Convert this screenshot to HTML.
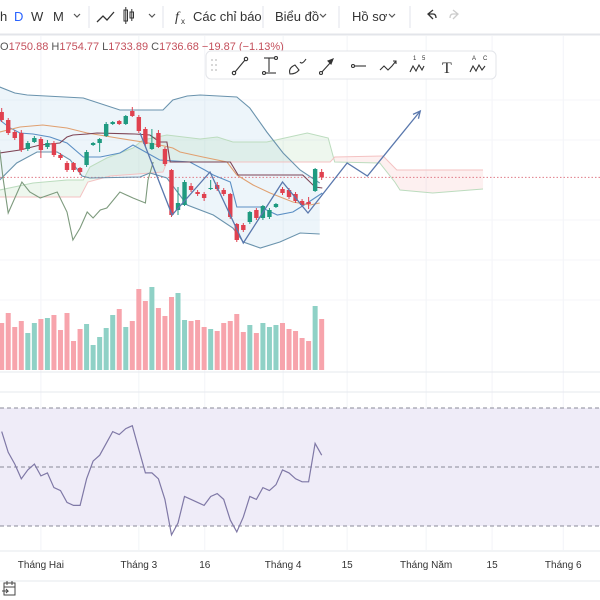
<!DOCTYPE html>
<html><head><meta charset="utf-8"><style>
html,body{margin:0;padding:0;background:#fff;width:600px;height:600px;overflow:hidden}
svg{display:block;font-family:"Liberation Sans","Noto Sans CJK SC",sans-serif}
</style></head><body>
<svg id="chart" width="600" height="600" viewBox="0 0 600 600" xmlns="http://www.w3.org/2000/svg">
<rect width="600" height="600" fill="#fff"/>
<g id="grid"></g>
<g id="bbfill"></g>
<g id="cloud"></g>
<g id="lines"></g>
<g id="candles"></g>
<g id="vol"></g>
<g id="rsi"></g>
<g id="xaxis"></g>
<g id="draw"></g>

<g>
<rect x="0" y="0" width="600" height="34" fill="#fff"/>
<line x1="0" y1="34.5" x2="600" y2="34.5" stroke="#e3e5ea" stroke-width="2"/>
<text x="0" y="21" font-size="13" fill="#333">h</text>
<text x="14" y="21" font-size="13" fill="#2962ff">D</text>
<text x="31" y="21" font-size="13" fill="#333">W</text>
<text x="53" y="21" font-size="13" fill="#333">M</text>
<path d="M74 14 l3 3 l3 -3" fill="none" stroke="#555" stroke-width="1.2"/>
<line x1="89" y1="6" x2="89" y2="28" stroke="#e0e3eb"/>
<path d="M97 22 l6 -6 l4 4 l7 -8" fill="none" stroke="#333" stroke-width="1.3"/>
<g stroke="#333" stroke-width="1" fill="none"><rect x="124" y="10" width="3.5" height="11"/><line x1="125.8" y1="7" x2="125.8" y2="24"/><rect x="130" y="12" width="3.5" height="6"/><line x1="131.8" y1="9" x2="131.8" y2="21"/></g>
<path d="M149 14 l3 3 l3 -3" fill="none" stroke="#555" stroke-width="1.2"/>
<line x1="163" y1="6" x2="163" y2="28" stroke="#e0e3eb"/>
<g><text x="175" y="21" font-size="14" font-style="italic" font-family="Liberation Serif,serif" fill="#333">f</text><text x="181" y="24" font-size="8" fill="#333">x</text><text x="193" y="21" font-size="13" fill="#333">Các chỉ báo</text></g>
<line x1="263" y1="6" x2="263" y2="28" stroke="#e0e3eb"/>
<g><text x="275" y="21" font-size="13" fill="#333">Biểu đồ</text><path d="M320 14 l3 3 l3 -3" fill="none" stroke="#555" stroke-width="1.2"/></g>
<line x1="339" y1="6" x2="339" y2="28" stroke="#e0e3eb"/>
<g><text x="352" y="21" font-size="13" fill="#333">Hồ sơ</text><path d="M389 14 l3 3 l3 -3" fill="none" stroke="#555" stroke-width="1.2"/></g>
<line x1="410" y1="6" x2="410" y2="28" stroke="#e0e3eb"/>
<path d="M433 19 l-5 -5 l5 -4 M428 14 h5 q3 0 3 4" fill="none" stroke="#333" stroke-width="1.3"/>
<path d="M453 19 l5 -5 l-5 -4 M458 14 h-5 q-3 0 -3 4" fill="none" stroke="#ccc" stroke-width="1.3"/>
</g>

<text x="0" y="50" font-size="11"><tspan fill="#555">O</tspan><tspan fill="#c4505c">1750.88 </tspan><tspan fill="#555">H</tspan><tspan fill="#c4505c">1754.77 </tspan><tspan fill="#555">L</tspan><tspan fill="#c4505c">1733.89 </tspan><tspan fill="#555">C</tspan><tspan fill="#c4505c">1736.68 −19.87 (−1.13%)</tspan></text>

<g>
<rect x="206" y="51" width="290" height="28" rx="5" fill="#fff" stroke="#e3e5ea"/>
<g fill="#ccc"><circle cx="212" cy="60" r="1"/><circle cx="216" cy="60" r="1"/><circle cx="212" cy="65" r="1"/><circle cx="216" cy="65" r="1"/><circle cx="212" cy="70" r="1"/><circle cx="216" cy="70" r="1"/></g>
<g fill="none" stroke="#333" stroke-width="1.1">
<g><line x1="235" y1="72" x2="245" y2="60"/><circle cx="234" cy="73" r="1.7" fill="#fff"/><circle cx="246" cy="59" r="1.7" fill="#fff"/></g>
<g><line x1="264" y1="58" x2="274" y2="58"/><line x1="269" y1="58" x2="269" y2="72"/><line x1="264" y1="73" x2="276" y2="73"/><circle cx="276" cy="58" r="1.5" fill="#fff"/><circle cx="264" cy="73" r="1.5" fill="#fff"/></g>
<g><path d="M290 74 q-2 -6 5 -9 l4 5 q-3 4 -9 4 z"/><path d="M300 62 q2 3 6 -3"/></g>
<g><line x1="321" y1="73" x2="331" y2="62"/><path d="M333 59 l-5 2 l3 3 z" fill="#333"/><circle cx="321" cy="73" r="1.5" fill="#fff"/></g>
<g><line x1="354" y1="66" x2="366" y2="66"/><circle cx="353" cy="66" r="1.5" fill="#fff"/></g>
<g><path d="M380 70 l4 -4 l4 4 l4 -4 l4 -5 M393 61 h3 v3"/></g>
<g><path d="M410 72 l3 -6 l3 5 l3 -6 l3 5 l2 -4"/><text x="413" y="60" font-size="6" fill="#333" stroke="none">1</text><text x="422" y="60" font-size="6" fill="#333" stroke="none">5</text></g>
<g><text x="442" y="73" font-size="16" font-family="Liberation Serif,serif" fill="#333" stroke="none">T</text></g>
<g><path d="M470 72 l3 -6 l3 5 l3 -6 l3 5 l3 -4"/><text x="472" y="60" font-size="6" fill="#333" stroke="none">A</text><text x="483" y="60" font-size="6" fill="#333" stroke="none">C</text></g>
</g>
</g>

<g fill="none" stroke="#444" stroke-width="1">
<rect x="4" y="583" width="11" height="12"/><line x1="4" y1="587" x2="15" y2="587"/><line x1="7" y1="581" x2="7" y2="585"/><line x1="12" y1="581" x2="12" y2="585"/><path d="M2 591 h6 l-2 -2 M8 591 l-2 2"/>
</g>
</svg>
<script>
const opens  = [1802,1794,1782,1781,1765,1772,1775,1767,1771,1759,1751,1751,1746,1749,1769,1771,1778,1790,1793,1790,1803,1797,1785,1765,1781,1765,1744,1704,1709,1728,1722,1720,1725,1729,1724,1720,1690,1689,1692,1704,1696,1697,1707,1725,1724,1720,1713,1712,1723,1742];
const highs  = [1806,1796,1784,1784,1773,1778,1777,1774,1773,1761,1753,1752,1747,1764,1772,1776,1792,1793,1794,1799,1807,1799,1787,1785,1784,1767,1745,1727,1734,1731,1724,1722,1734,1732,1726,1721,1691,1691,1703,1706,1709,1706,1711,1727,1726,1722,1715,1717,1746,1745];
const lows   = [1792,1779,1774,1762,1763,1771,1756,1765,1757,1754,1742,1742,1739,1747,1768,1762,1777,1789,1789,1789,1797,1781,1768,1764,1766,1748,1697,1699,1708,1722,1718,1713,1724,1723,1718,1695,1672,1682,1690,1694,1694,1695,1706,1719,1715,1711,1707,1705,1722,1734];
const closes = [1794,1781,1776,1764,1771,1776,1764,1771,1759,1756,1744,1744,1742,1762,1771,1775,1790,1792,1790,1798,1798,1783,1770,1771,1767,1750,1699,1711,1732,1724,1720,1716,1726,1725,1720,1697,1674,1684,1702,1696,1708,1704,1710,1721,1717,1713,1709,1710,1745,1736.68];
const volumes = [470,570,430,490,370,470,510,520,550,400,570,290,410,460,250,330,420,550,610,430,490,810,690,830,620,540,730,770,500,490,500,430,410,390,470,490,560,380,450,370,470,430,450,470,410,390,320,290,640,510];
const rsiValues = [62,55,51,46,49,51,47,48,43,42,38,37,37,46,52,54,58,62,61,63,64,56,48,48,46,39,27,31,40,39,38,37,40,41,39,32,28,33,40,39,43,42,44,49,48,46,45,45,58,54];
const rsiLevels = [70,50,30];
const lastClose = 1736.68;

const bbUpperIdx = [-0.3,2.0,3.9,12.5,18.1,24.7,26.2,28.4,30.4,36.0,38.0,40.6,43.1,45.7,48.7];
const bbUpper    = [1827,1821,1819,1816,1804,1804,1814,1818,1819,1817,1806,1782,1761,1744,1731];
const bbLowerIdx = [-0.3,2.3,5.4,8.5,10.5,12.3,13.5,21.2,22.7,25.3,28.4,32.4,35.4,37.0,39.6,42.6,45.7,48.7];
const bbLower    = [1734,1751,1762,1762,1754,1738,1736,1737,1741,1736,1709,1699,1686,1672,1666,1672,1681,1680];
const tenkanIdx  = [-0.3,1.3,2.8,4.8,7.4,10.0,12.5,15.1,18.1,20.1,24.2,28.8,31.1,32.4,35.0,36.0,39.6,42.2,44.6,46.8,49.1];
const tenkan     = [1794,1786,1781,1780,1777,1771,1757,1757,1761,1769,1754,1752,1744,1739,1732,1707,1707,1699,1702,1711,1721];
const maIdx      = [-0.3,2.8,6.3,10.0,13.1,17.7,21.6,24.2,26.2,27.3,30.8,34.5,36.0,38.5,41.1,44.6,47.2,48.7];
const maValues   = [1782,1787,1789,1786,1781,1776,1772,1769,1766,1762,1757,1752,1739,1729,1721,1712,1709,1711];
const kijunIdx   = [-0.3,2.8,5.9,8.9,10.0,10.9,13.1,14.6,20.4,22.7,24.2,25.3,25.8,35.0,36.2,46.1,48.0,49.1];
const kijun      = [1761,1764,1769,1771,1777,1779,1780,1781,1780,1779,1772,1772,1752,1752,1739,1739,1727,1726];
const lagIdx     = [-0.3,0.2,1.0,3.1,4.3,5.9,8.5,10.0,10.9,12.0,13.1,14.0,15.1,16.1,18.1,20.1,22.0,22.4,23.2];
const lagging    = [1764,1736,1701,1732,1722,1716,1722,1702,1674,1686,1702,1696,1704,1706,1722,1716,1711,1734,1752];
const spanAIdx   = [-0.3,4.8,10.0,12.5,13.5,16.1,20.1,21.6,25.3,30.4,33.0,35.4,40.6,46.8,50.0,51.0,57.9,60.2,61.0,66.0,73.7];
const spanA      = [1724,1731,1734,1734,1747,1756,1766,1774,1779,1775,1777,1772,1772,1781,1776,1752,1751,1732,1724,1721,1725];
const spanBIdx   = [-0.3,12.0,13.2,16.6,24.7,25.3,50.3,51.0,58.4,60.5,73.7];
const spanB      = [1717,1717,1732,1738,1742,1752,1752,1757,1758,1744,1744];
const zigIdx     = [21.2,26.1,31.9,37.0,43.0,46.9,52.9,56.0,64.1];
const zigPrice   = [1781,1699,1742,1671,1732,1701,1751,1738,1803];
const xTickLabels = ["Tháng Hai","Tháng 3","16","Tháng 4","15","Tháng Năm","15","Tháng 6"];
const xTickIdx    = [6.0,21.0,31.1,43.1,52.9,65.0,75.1,86.0];

const X = i => 1.7 + i * 6.53;
const Y = p => 1914 - p;
const VY = v => 370 - v / 10;
const RY = r => 526 - (r - 30) / 40 * 118;
const NS = "http://www.w3.org/2000/svg";
function mk(tag, attrs, parent){ const e=document.createElementNS(NS,tag); for(const k in attrs) e.setAttribute(k,attrs[k]); parent.appendChild(e); return e; }
function interp(xs, ys, i){ if(i<=xs[0]) return ys[0]; for(let k=1;k<xs.length;k++){ if(i<=xs[k]){const t=(i-xs[k-1])/(xs[k]-xs[k-1]); return ys[k-1]+t*(ys[k]-ys[k-1]);} } return ys[ys.length-1]; }
function pts(xs, ys){ return xs.map((x,k)=>X(x).toFixed(1)+','+Y(ys[k]).toFixed(1)).join(' '); }

const grid = document.getElementById('grid');
xTickIdx.forEach(i=>{ const l=mk('line',{x1:X(i),y1:36,x2:X(i),y2:550,stroke:'#f2f4f8'},grid);

 });
[100,140,220,260,300].forEach(y=>{ const l=mk('line',{x1:0,y1:y,x2:600,y2:y,stroke:'#f4f5f8'},grid);

 });
[372,392,551].forEach(y=>{ const l=mk('line',{x1:0,y1:y,x2:600,y2:y,stroke:'#e6e8ee'},grid);

 });

const bbf = document.getElementById('bbfill');
const bbPoly = mk('polygon',{points: pts(bbUpperIdx,bbUpper)+' '+pts(bbLowerIdx.slice().reverse(), bbLower.slice().reverse()), fill:'rgba(190,220,238,0.28)'},bbf);



const cloud = document.getElementById('cloud');
const cEnd = spanAIdx[spanAIdx.length-1];
for(let x=0; x<X(cEnd); x+=1){
  const i=(x+0.5-1.7)/6.53; const a=interp(spanAIdx,spanA,i), b=interp(spanBIdx,spanB,i);
  const top=Math.min(Y(a),Y(b)), h=Math.abs(Y(a)-Y(b));
  const r=mk('rect',{x:x,y:top,width:1.05,height:h,fill:a>=b?'rgba(160,210,165,0.18)':'rgba(244,170,170,0.18)'},cloud);
  
  
}
const la=mk('polyline',{points:pts(spanAIdx,spanA),fill:'none',stroke:'#bcdcbe','stroke-width':1},cloud);


const lb=mk('polyline',{points:pts(spanBIdx,spanB),fill:'none',stroke:'#f4c2c2','stroke-width':1},cloud);



const lines=document.getElementById('lines');
const pl=mk('line',{x1:0,y1:Y(lastClose),x2:600,y2:Y(lastClose),stroke:'#e07c88','stroke-dasharray':'1.5,2','stroke-width':1},lines);


const defs=[[bbUpperIdx,bbUpper,'#6a93ad','bollinger-upper'],[bbLowerIdx,bbLower,'#6a93ad','bollinger-lower'],[tenkanIdx,tenkan,'#5b8fc4','tenkan-line'],[maIdx,maValues,'#e0a070','moving-average'],[kijunIdx,kijun,'#7d4455','kijun-line'],[lagIdx,lagging,'#7d9a7d','lagging-span']];
defs.forEach(d=>{ const l=mk('polyline',{points:pts(d[0],d[1]),fill:'none',stroke:d[2],'stroke-width':1.1},lines);

 });

const cg=document.getElementById('candles');
opens.forEach((o,i)=>{ const c=closes[i], up=c>=o, col=up?'#1f9a80':'#e0414f';
  const g=mk('g',{},cg);
  
  
  mk('line',{x1:X(i),y1:Y(highs[i]),x2:X(i),y2:Y(lows[i]),stroke:col,'stroke-width':1},g);
  mk('rect',{x:X(i)-2.2,y:Y(Math.max(o,c)),width:4.4,height:Math.max(1,Math.abs(Y(o)-Y(c))),fill:col},g);
});

const vg=document.getElementById('vol');
volumes.forEach((v,i)=>{ const up=closes[i]>=opens[i];
  const r=mk('rect',{x:X(i)-2.5,y:VY(v),width:5,height:370-VY(v),fill:up?'#8fd1c6':'#f7a4ac'},vg);
  
  
});

const rg=document.getElementById('rsi');
const rb=mk('rect',{x:0,y:RY(rsiLevels[0]),width:600,height:RY(rsiLevels[2])-RY(rsiLevels[0]),fill:'#efecf8'},rg);


rsiLevels.forEach(lv=>{ const l=mk('line',{x1:0,y1:RY(lv),x2:600,y2:RY(lv),stroke:'#8a8a98','stroke-dasharray':'4,3','stroke-width':1},rg);

 });
const rl=mk('polyline',{points:rsiValues.map((v,i)=>X(i).toFixed(1)+','+RY(v).toFixed(1)).join(' '),fill:'none',stroke:'#7f78a6','stroke-width':1.2},rg);



const xg=document.getElementById('xaxis');
xTickLabels.forEach((t,k)=>{ const e=mk('text',{x:X(xTickIdx[k]),y:568,'font-size':10,fill:'#333','text-anchor':'middle'},xg); e.textContent=t;

 });
const xl=mk('line',{x1:0,y1:581,x2:600,y2:581,stroke:'#e6e8ee'},xg);



const dg=document.getElementById('draw');
const zz=mk('polyline',{points:pts(zigIdx,zigPrice),fill:'none',stroke:'#5a78ad','stroke-width':1.3},dg);


const n=zigIdx.length, ex=X(zigIdx[n-1]), ey=Y(zigPrice[n-1]), px=X(zigIdx[n-2]), py=Y(zigPrice[n-2]);
const ang=Math.atan2(ey-py,ex-px);
const ah=mk('path',{d:`M${ex-8*Math.cos(ang-0.45)},${ey-8*Math.sin(ang-0.45)} L${ex},${ey} L${ex-8*Math.cos(ang+0.45)},${ey-8*Math.sin(ang+0.45)}`,fill:'none',stroke:'#5a78ad','stroke-width':1.3},dg);


</script>
</body></html>
